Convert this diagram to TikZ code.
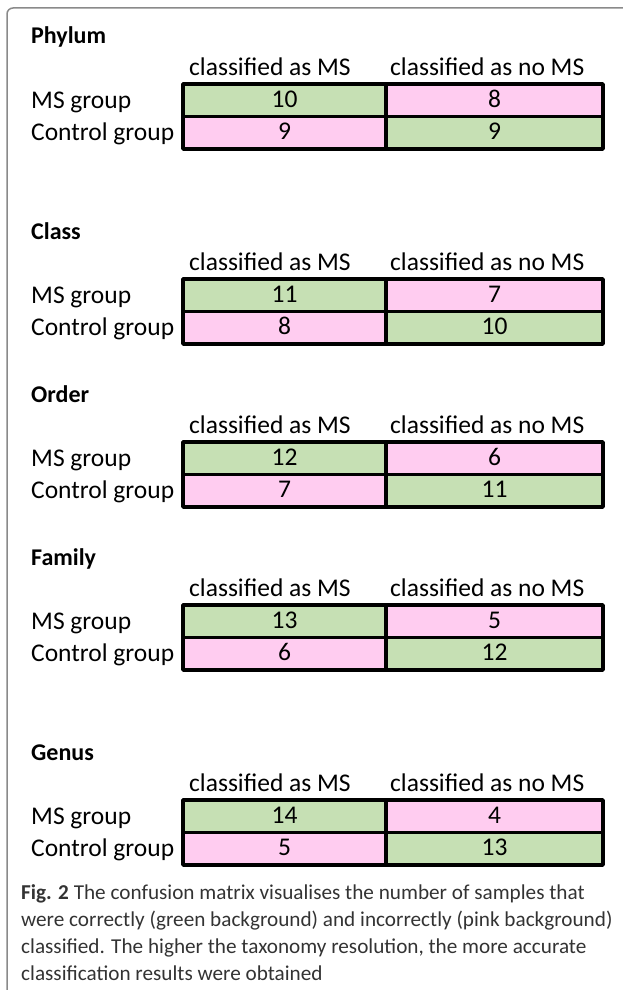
\documentclass[tikz,border=0pt]{standalone}
\usepackage{fontspec}
\setmainfont{Carlito}
\usetikzlibrary{positioning}
\definecolor{cellgreen}{HTML}{C6E0B4}
\definecolor{cellpink}{HTML}{FFCCF0}
\definecolor{framegray}{HTML}{8A8A8A}

\begin{document}
\begin{tikzpicture}[x=1pt,y=-1pt,line cap=round,line join=round,
    label/.style={anchor=west,inner sep=0pt,text height=17pt,text depth=3pt,font=\fontsize{25.5}{28}\selectfont},
    title/.style={label,font=\fontsize{24}{28}\selectfont\bfseries},
    cell/.style={draw=black,line width=3.5pt,minimum height=32.5pt,inner sep=0pt,text height=17pt,text depth=3pt,font=\fontsize{25.5}{28}\selectfont},
    good/.style={cell,fill=cellgreen},
    bad/.style={cell,fill=cellpink}]
  \useasboundingbox (0,0) rectangle (622,990);
  % frame of the figure box
  \draw[framegray,line width=1.5pt,rounded corners=6pt] (7,995) -- (7,8) -- (627,8);
  % one confusion matrix per taxonomic level
  \foreach \tax/\ty/\tp/\fn/\fp/\tn in {Phylum/37/10/8/9/9,Class/232/11/7/8/10,Order/395/12/6/7/11,Family/558/13/5/6/12,Genus/753/14/4/5/13}{
    \node[title] (\tax) at (31,\ty) {\tax};
    \node[label] (\tax-hms) at (189,\ty+31) {classified as MS};
    \node[label] (\tax-hno) at (390,\ty+31) {classified as no MS};
    \node[label] (\tax-ms) at (31,\ty+64) {MS group};
    \node[label] (\tax-ctl) at (31,\ty+96) {Control group};
    \node[good,minimum width=203pt] (\tax-tp) at (284.5,\ty+63.25) {\tp};
    \node[bad,minimum width=217pt] (\tax-fn) at (494.5,\ty+63.25) {\fn};
    \node[bad,minimum width=203pt] (\tax-fp) at (284.5,\ty+95.75) {\fp};
    \node[good,minimum width=217pt] (\tax-tn) at (494.5,\ty+95.75) {\tn};
  }
  % caption
  \node[anchor=north west,inner sep=0pt,align=left,text=black!80,font=\fontsize{21.2}{27}\selectfont] (caption) at (21,884)
    {\textbf{Fig. 2} The confusion matrix visualises the number of samples that\\
     were correctly (green background) and incorrectly (pink background)\\
     classified. The higher the taxonomy resolution, the more accurate\\
     classification results were obtained};
\end{tikzpicture}
\end{document}
